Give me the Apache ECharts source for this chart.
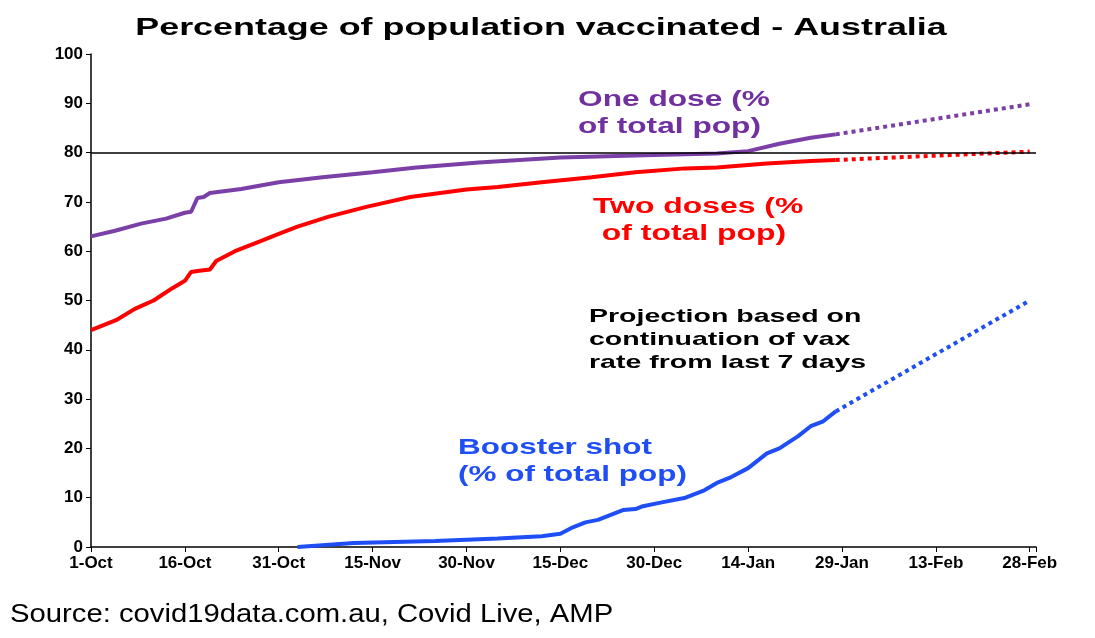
<!DOCTYPE html>
<html>
<head>
<meta charset="utf-8">
<script src="https://cdn.jsdelivr.net/npm/echarts@6/dist/echarts.min.js"></script>
<style>html,body{margin:0;background:#fff}#chart{width:1095px;height:638px}</style>
</head>
<body>
<div id="chart"></div>
<script>
// x = days since 1-Oct
var tickLabels = ['1-Oct','16-Oct','31-Oct','15-Nov','30-Nov','15-Dec','30-Dec','14-Jan','29-Jan','13-Feb','28-Feb'];

var oneDoseDays = [0,4,8,12,15,16,17,18,19,24,30,37,45,52,62,75,90,100,105,110,115,119];
var oneDoseVals = [63,64.2,65.6,66.6,67.8,68,70.8,71,71.8,72.6,74,75,76,77,78,79,79.5,79.8,80.3,81.8,83,83.7];
var oneDoseProj = [[119,83.7],[150,89.8]];

var twoDoseDays = [0,4,7,10,13,15,16,17,19,20,23,27,30,33,38,44,51,60,65,72,80,87,95,100,108,115,119];
var twoDoseVals = [44,46,48.3,50,52.5,54,55.8,56,56.3,58,60,62,63.5,65,67,69,71,72.5,73,74,75,76,76.8,77,77.8,78.3,78.5];
var twoDoseProj = [[119,78.5],[150,80.2]];

var boostDays = [33,42,55,65,72,75,77,79,81,85,87,88,91,95,98,100,102,105,108,110,113,115,117,119];
var boostVals = [0,0.8,1.2,1.7,2.2,2.7,4,5,5.5,7.5,7.7,8.2,9,10,11.5,13,14,16,19,20,22.5,24.5,25.5,27.5];
var boostProj = [[119,27.5],[150,50]];

function pairs(d, v){ return d.map(function(x,i){ return [x, v[i]]; }); }

var chart = echarts.init(document.getElementById('chart'));
var F = 'Liberation Sans, Arial, sans-serif';
function line(data, color, dotted){
	return {type:'line', data:data, symbol:'none', smooth:false,
		lineStyle:{color:color, width:4, type: dotted ? 'dotted' : 'solid'}};
}
function label(x, y, text, font, fill, lh, sx){
	return {type:'text', x:x, y:y, scaleX:sx, style:{text:text, font:font, fill:fill, lineHeight:lh}};
}
var s1 = line(pairs(oneDoseDays, oneDoseVals), '#7B3FA8');
s1.markLine = {silent:true, symbol:'none', label:{show:false},
	lineStyle:{color:'#000', width:1.5, type:'solid'}, data:[{yAxis:80}]};
chart.setOption({
	animation:false,
	grid:{left:91, right:59, top:54, bottom:91},
	xAxis:{type:'value', min:0, max:151, interval:15,
		axisLine:{lineStyle:{color:'#000', width:1.5}},
		axisTick:{show:true, lineStyle:{color:'#000'}},
		splitLine:{show:false},
		axisLabel:{fontFamily:F, fontSize:17, fontWeight:'bold', color:'#000',
			formatter:function(v){ return tickLabels[v/15] || ''; }}},
	yAxis:{type:'value', min:0, max:100, interval:10,
		axisLine:{show:true, lineStyle:{color:'#000', width:1.5}},
		axisTick:{show:true, lineStyle:{color:'#000'}},
		splitLine:{show:false},
		axisLabel:{fontFamily:F, fontSize:17, fontWeight:'bold', color:'#000'}},
	series:[
		s1,
		line(oneDoseProj, '#7B3FA8', true),
		line(pairs(twoDoseDays, twoDoseVals), '#FF0000'),
		line(twoDoseProj, '#FF0000', true),
		line(pairs(boostDays, boostVals), '#1F4EF5'),
		line(boostProj, '#1F4EF5', true)
	],
	graphic:[
		{type:'text', x:541, y:17, scaleX:1.56, style:{text:'Percentage of population vaccinated - Australia',
			font:'bold 23px '+F, fill:'#000', textAlign:'center'}},
		label(578, 86, 'One dose (%\nof total pop)', 'bold 22px '+F, '#7030A0', 27, 1.44),
		label(593, 193, 'Two doses (%\n of total pop)', 'bold 22px '+F, '#FF0000', 27, 1.45),
		label(589, 305, 'Projection based on\ncontinuation of vax\nrate from last 7 days', 'bold 19px '+F, '#000', 23, 1.5),
		label(458, 434, 'Booster shot\n(% of total pop)', 'bold 22px '+F, '#1F4EF5', 27, 1.43),
		label(10, 600, 'Source: covid19data.com.au, Covid Live, AMP', '25px '+F, '#000', 30, 1.17)
	]
});
</script>
</body>
</html>
